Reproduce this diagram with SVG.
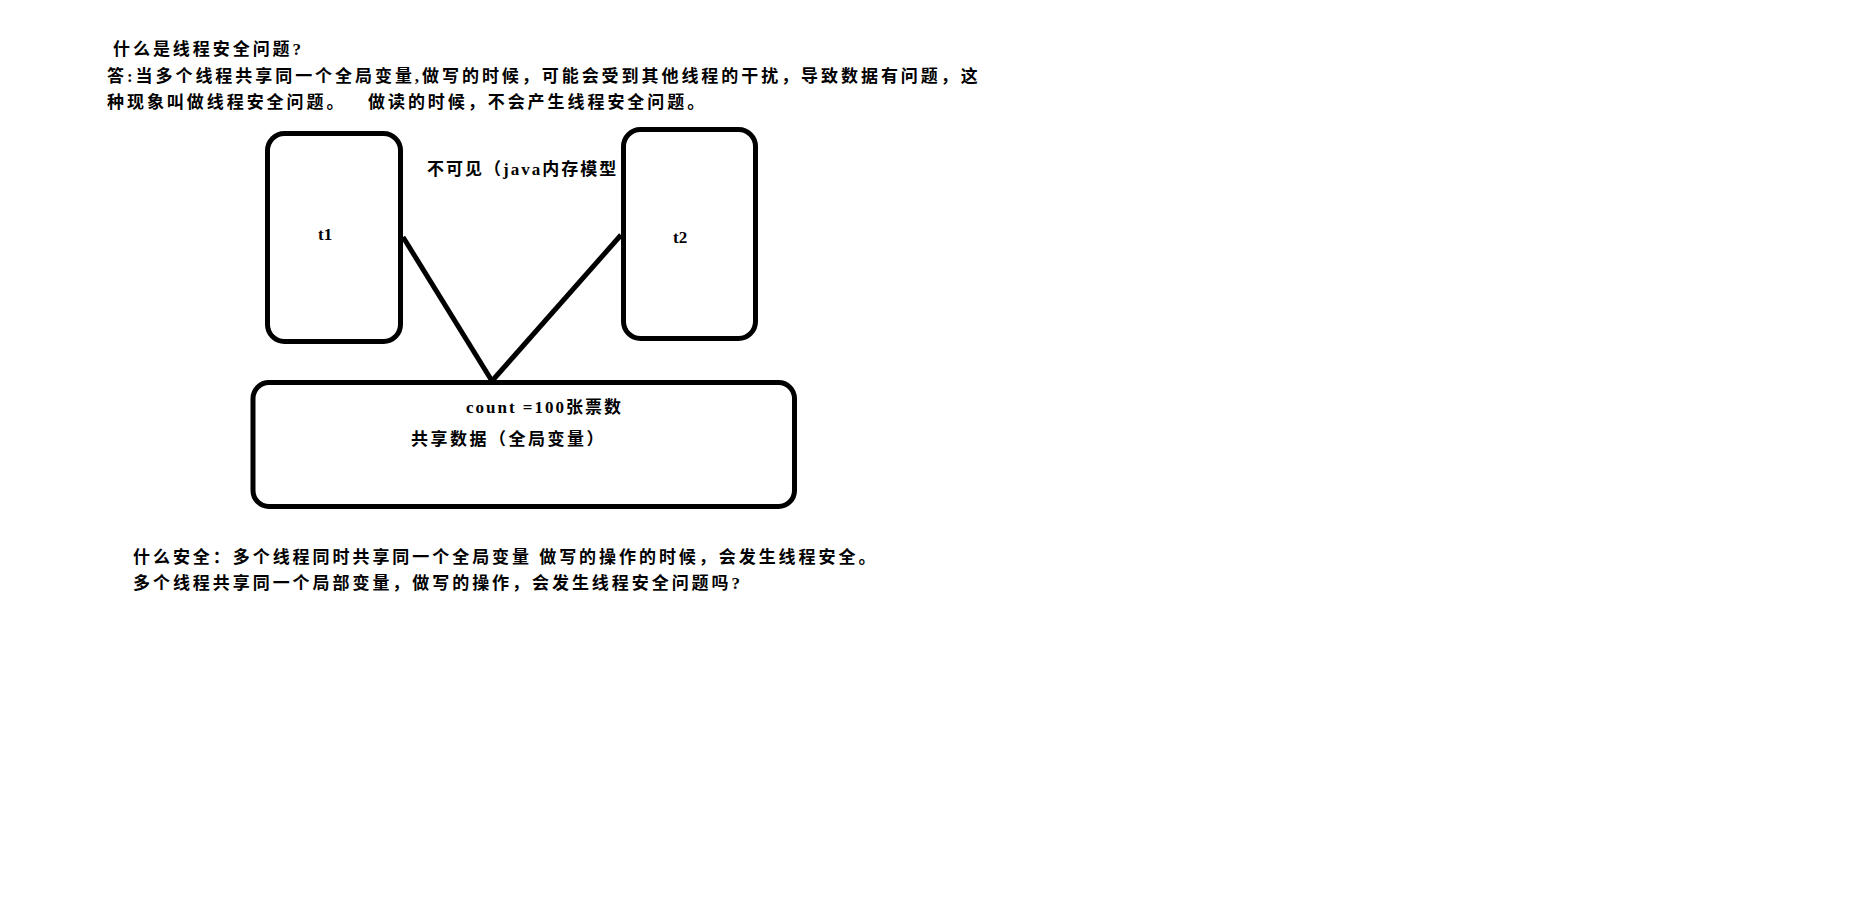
<svg xmlns="http://www.w3.org/2000/svg" width="1876" height="917" viewBox="0 0 1876 917">
<style>
.bg{fill:#ffffff}
.box{fill:#ffffff;stroke:#000000;stroke-width:5}
.edge{fill:none;stroke:#000000;stroke-width:5;stroke-linecap:butt}
.t{font-family:"Liberation Serif","Noto Sans CJK SC",serif;font-weight:bold;font-size:17px;fill:#000000;letter-spacing:2.95px}
.lbl{font-family:"Liberation Serif","Noto Sans CJK SC",serif;font-weight:bold;font-size:17px;fill:#000000}
</style>
<rect class="bg" x="0" y="0" width="1876" height="917"/>
<g id="notes-top">
<text class="t" x="113" y="55">什么是线程安全问题?</text>
<text class="t" x="107" y="81.5">答:当多个线程共享同一个全局变量,做写的时候，可能会受到其他线程的干扰，导致数据有问题，这</text>
<text class="t" x="107" y="107.5">种现象叫做线程安全问题。</text>
<text class="t" x="368" y="107.5">做读的时候，不会产生线程安全问题。</text>
</g>
<g id="label-invisible">
<text class="lbl" x="427" y="175" letter-spacing="2">不可见（java内存模型</text>
</g>
<g id="connectors">
<line class="edge" x1="403" y1="237" x2="492" y2="381"/>
<line class="edge" x1="621" y1="235" x2="492" y2="381"/>
</g>
<g id="node-t1">
<rect class="box" x="267.5" y="133.5" width="133" height="208" rx="17" ry="17"/>
<text class="lbl" x="318" y="240">t1</text>
</g>
<g id="node-t2">
<rect class="box" x="623.5" y="129.5" width="132" height="209" rx="17" ry="17"/>
<text class="lbl" x="673" y="243">t2</text>
</g>
<g id="node-shared">
<rect class="box" x="253" y="382.5" width="541.5" height="124" rx="16" ry="16"/>
<text class="lbl" x="466" y="413" letter-spacing="2">count =100张票数</text>
<text class="lbl" x="411" y="445" letter-spacing="2.5">共享数据（全局变量）</text>
</g>
<g id="notes-bottom">
<text class="t" x="133" y="563">什么安全：多个线程同时共享同一个全局变量 做写的操作的时候，会发生线程安全。</text>
<text class="t" x="133" y="589">多个线程共享同一个局部变量，做写的操作，会发生线程安全问题吗?</text>
</g>
</svg>
